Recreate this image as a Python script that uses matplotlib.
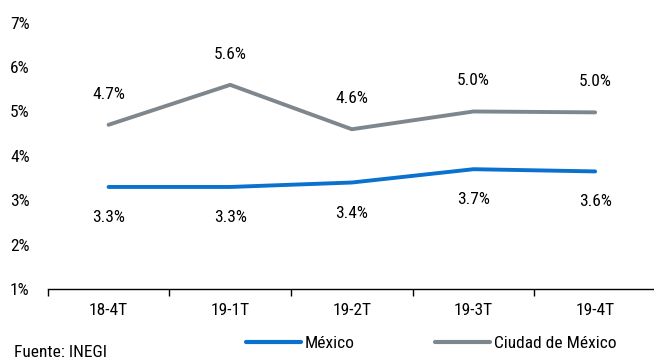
import matplotlib.pyplot as plt
from matplotlib.lines import Line2D

plt.rcParams['font.family'] = ['Roboto Condensed', 'Liberation Sans Narrow', 'Roboto', 'DejaVu Sans']

# Periodos y tasas
quarters = ['18-4T', '19-1T', '19-2T', '19-3T', '19-4T']
mexico = [3.3, 3.3, 3.4, 3.7, 3.65]
cdmx = [4.7, 5.6, 4.6, 5.0, 4.98]
mexico_labels = ['3.3%', '3.3%', '3.4%', '3.7%', '3.6%']
cdmx_labels = ['4.7%', '5.6%', '4.6%', '5.0%', '5.0%']
yticks = [1, 2, 3, 4, 5, 6, 7]

blue = '#0A72CE'
gray = '#7E878E'
fs = 12.5

fig = plt.figure(figsize=(6.54, 3.6), dpi=100)
ax = fig.add_axes([0.073, 0.197, 0.93, 0.74])

x = list(range(len(quarters)))
ax.plot(x, mexico, color=blue, lw=2.8, solid_capstyle='round')
ax.plot(x, cdmx, color=gray, lw=2.8, solid_capstyle='round')

for i in x:
    ax.annotate(cdmx_labels[i], (i, cdmx[i]), xytext=(0, 22), textcoords='offset points',
                ha='center', va='center', fontsize=fs)
    ax.annotate(mexico_labels[i], (i, mexico[i]), xytext=(0, -22), textcoords='offset points',
                ha='center', va='center', fontsize=fs)

ax.set_xlim(-0.5, 4.5)
ax.set_ylim(1, 7)
ax.set_yticks(yticks)
ax.set_yticklabels([f'{v}%' for v in yticks], fontsize=fs)
ax.set_xticks(x)
ax.set_xticklabels(quarters, fontsize=fs)
ax.set_xticks([-0.5, 0.5, 1.5, 2.5, 3.5, 4.5], minor=True)
ax.tick_params(axis='x', which='major', length=0, pad=10)
ax.tick_params(axis='x', which='minor', length=5, color='black', width=1)
ax.tick_params(axis='y', length=0, pad=13)

for s in ['top', 'right', 'left']:
    ax.spines[s].set_visible(False)
ax.spines['bottom'].set_color('black')
ax.spines['bottom'].set_linewidth(1)

handles = [Line2D([], [], color=blue, lw=3, solid_capstyle='round'),
           Line2D([], [], color=gray, lw=3, solid_capstyle='round')]
fig.legend(handles, ['México', 'Ciudad de México'], loc='center',
           bbox_to_anchor=(0.659, 0.045), ncol=2, frameon=False, fontsize=fs,
           handlelength=3.2, handletextpad=0.2, columnspacing=4.6)

fig.text(0.021, 0.022, 'Fuente: INEGI', fontsize=fs, ha='left', va='center')

fig.savefig('out.png', dpi=100)
